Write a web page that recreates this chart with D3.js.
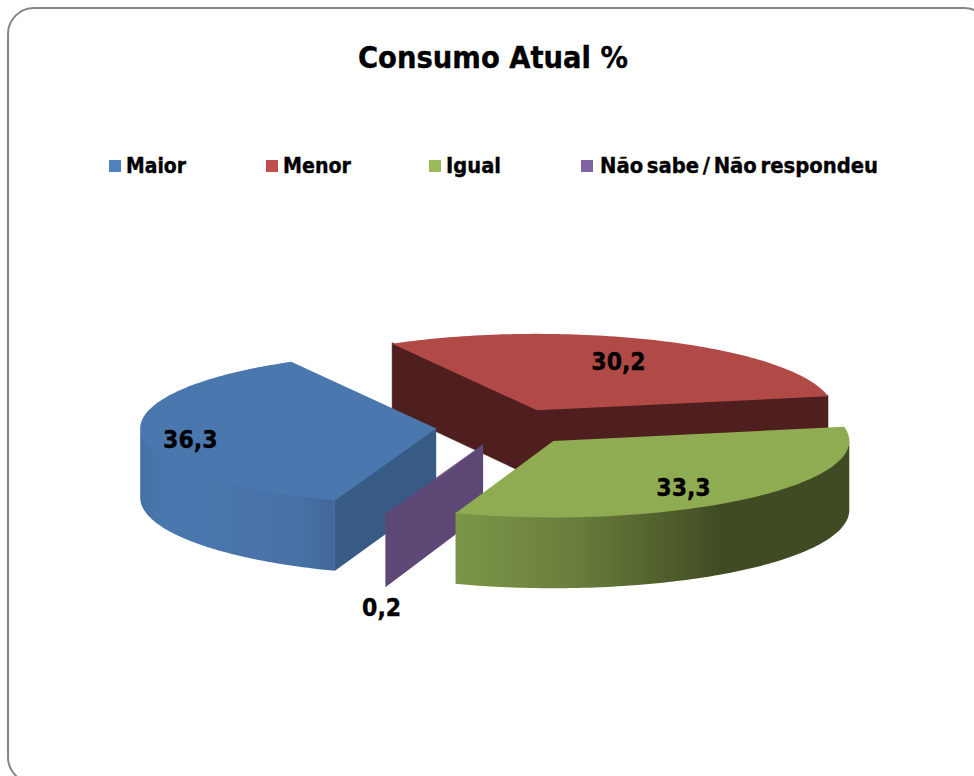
<!DOCTYPE html>
<html><head><meta charset="utf-8">
<script src="https://cdn.jsdelivr.net/npm/d3@7"></script>
<style>html,body{margin:0;padding:0;background:#fff}svg{display:block}
text{font-family:"DejaVu Sans Condensed","DejaVu Sans",sans-serif;font-weight:700;fill:#000;stroke:#000;stroke-width:.35px}</style>
</head><body><svg id="c" width="974" height="776"></svg>
<script>
const title = "Consumo Atual %";
const categories = ["Maior", "Menor", "Igual", "Não sabe / Não respondeu"];
const values = [36.3, 30.2, 33.3, 0.2];
const valueLabels = ["36,3", "30,2", "33,3", "0,2"];
const legendColors = ["#4f81bd", "#c0504d", "#9bbb59", "#8064a2"];
const topColors = ["#4a78ae", "#b14a47", "#90ac52", "#5c4775"];
const sideColors = ["#385b86", "#4e1f1e", "#7c9547", "#5c4775"];

const W = 974, H = 776;
const cx = 507, cy = 427, rx = 296, ry = 76.5, depth = 69, explode = 0.24;
const firstAngle = 200 * Math.PI / 180;
const TAU = 2 * Math.PI;

const svg = d3.select("#c");
const defs = svg.append("defs");
function gradient(id, stops) {
  const g = defs.append("linearGradient").attr("id", id).attr("x1", 0).attr("x2", 1).attr("y1", 0).attr("y2", 0);
  stops.forEach(([o, c]) => g.append("stop").attr("offset", o).attr("stop-color", c));
}
gradient("wall0", [[0, "#4571a5"], [0.15, "#4a78ae"], [0.8, "#4871a6"], [1, "#40689a"]]);
gradient("wall2", [[0, "#7c9648"], [0.3, "#6a7e3c"], [0.68, "#3f4b22"], [1, "#3f4b22"]]);

svg.append("rect").attr("x", 8).attr("y", 8).attr("width", 982).attr("height", 775)
  .attr("rx", 26).attr("fill", "#fff").attr("stroke", "#868686").attr("stroke-width", 2);

svg.append("text").attr("x", 493).attr("y", 68).attr("text-anchor", "middle")
  .attr("font-size", 30).attr("textLength", 270).attr("lengthAdjust", "spacingAndGlyphs").text(title);

// legend
const legendSwatch = [109, 266, 429, 581], legendWidths = [60, 68, 55, 278];
const legend = svg.append("g").selectAll("g").data(categories).join("g")
  .attr("transform", (d, i) => `translate(${legendSwatch[i]},160)`);
legend.append("rect").attr("width", 12).attr("height", 12).attr("fill", (d, i) => legendColors[i]);
legend.append("text").attr("x", (d, i) => i === 3 ? 19 : 17).attr("y", 13).attr("font-size", 21)
  .attr("word-spacing", -3).attr("textLength", (d, i) => legendWidths[i])
  .attr("lengthAdjust", "spacingAndGlyphs").text(d => d);

// pie geometry
const scaleX = d3.scaleLinear().domain([-1, 1]).range([cx - rx, cx + rx]);
const scaleY = d3.scaleLinear().domain([-1, 1]).range([cy - ry, cy + ry]);
const arcs = d3.pie().sort(null).value(d => d).startAngle(firstAngle).endAngle(firstAngle + TAU)(values);

const centre = d => {
  const m = (d.startAngle + d.endAngle) / 2;
  return [explode * Math.sin(m), -explode * Math.cos(m)];
};
const pt = (d, a, r = 1) => {
  const [ox, oy] = centre(d);
  return [scaleX(ox + r * Math.sin(a)), scaleY(oy - r * Math.cos(a))];
};
const down = p => [p[0], p[1] + depth + 0.02 * (p[1] - cy)];
const samples = (a0, a1) => {
  const n = Math.max(2, Math.ceil(Math.abs(a1 - a0) / 0.02));
  return d3.range(n + 1).map(i => a0 + (a1 - a0) * i / n);
};
const line = d3.line().curve(d3.curveLinear);
const closed = pts => line(pts) + "Z";
const wallAlong = (d, a0, a1, lift = 1.5) => {
  const base = samples(a0, a1).map(a => pt(d, a));
  const under = base.map(p => [p[0], p[1] - lift]);
  return closed(under.concat(base.map(down).reverse()));
};
const cutWall = (d, a, lift = 1) => {
  const o = pt(d, 0, 0), e = pt(d, a);
  return closed([[o[0], o[1] - lift], [e[0], e[1] - lift], down(e), down(o)]);
};
const topFace = d => closed([pt(d, 0, 0)].concat(samples(d.startAngle, d.endAngle).map(a => pt(d, a))));

// front half of the ring is where the outer wall can be seen
const frontFrom = Math.PI / 2, frontTo = 3 * Math.PI / 2;
const norm = a => ((a % TAU) + TAU) % TAU;

const pie = svg.append("g");
const drawOrder = [1, 0, 3, 2];
drawOrder.forEach(i => {
  const d = arcs[i], g = pie.append("g");
  const s = norm(d.startAngle), e = s + (d.endAngle - d.startAngle);
  if (i === 1) {
    g.append("path").attr("d", cutWall(d, d.startAngle) + cutWall(d, d.endAngle))
      .attr("fill", sideColors[i]).attr("stroke", sideColors[i]).attr("stroke-width", 0.5);
  }
  if (i === 0) {
    g.append("path").attr("d", cutWall(d, d.startAngle)).attr("fill", sideColors[i]);
    g.append("path").attr("d", wallAlong(d, s, Math.min(e, frontTo))).attr("fill", "url(#wall0)");
  }
  if (i === 2) {
    g.append("path").attr("d", wallAlong(d, Math.max(s, frontFrom), Math.min(e, frontTo))).attr("fill", "url(#wall2)");
  }
  if (i === 3) {
    g.append("path").attr("d", cutWall(d, d.startAngle, 0)).attr("fill", sideColors[i]);
  }
  g.append("path").attr("d", topFace(d)).attr("fill", topColors[i]);
});

// value labels sit along each slice's mid-angle, then get a small nudge
const labelRadius = [0.82, 0.65, 0.67, 1];
const labelNudge = [[-4, 5], [0, -4], [1, 7], [-2, 91]];
svg.append("g").selectAll("text").data(arcs).join("text")
  .attr("text-anchor", "middle").attr("font-size", 24.5)
  .attr("transform", (d, i) => {
    const p = pt(d, (d.startAngle + d.endAngle) / 2, labelRadius[i]);
    return `translate(${p[0] + labelNudge[i][0]},${p[1] + labelNudge[i][1] + 9})`;
  })
  .text((d, i) => valueLabels[i]);
</script></body></html>
